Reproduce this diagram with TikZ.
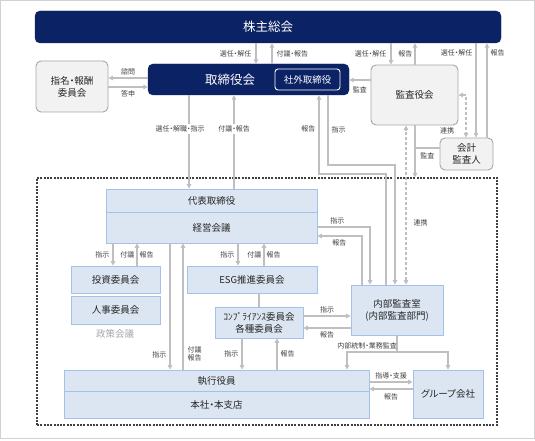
\documentclass[tikz,border=0pt]{standalone}
\usepackage{fontspec}
\setmainfont{Noto Sans CJK JP}[RawFeature=+palt]
\usetikzlibrary{arrows.meta}
\definecolor{navy}{HTML}{0B2264}
\definecolor{boxgray}{HTML}{A6A6A6}
\definecolor{fillgray}{HTML}{F2F2F2}
\definecolor{bluefill}{HTML}{DCE6F2}
\definecolor{blueline}{HTML}{A4C2E8}
\definecolor{conngray}{HTML}{BFBFBF}
\definecolor{labgray}{HTML}{404040}
\definecolor{txt}{HTML}{262626}
\begin{document}
\begin{tikzpicture}[x=1pt,y=-1pt,
  navybox/.style={draw=navy, fill=navy, rounded corners=5pt, text=white, inner sep=0pt},
  graybox/.style={draw=boxgray, fill=fillgray, line width=0.9pt, rounded corners=5pt, text=txt, align=center, inner sep=0pt, font=\fontsize{9.5}{12}\selectfont},
  bluebox/.style={draw=blueline, fill=bluefill, line width=0.8pt, text=txt, align=center, inner sep=0pt, font=\fontsize{9.5}{12}\selectfont},
  conn/.style={draw=conngray, line width=1.3pt},
  arr/.style={conn, -{Triangle[length=4.5pt,width=4.5pt]}},
  darr/.style={conn, {Triangle[length=4.5pt,width=4.5pt]}-{Triangle[length=4.5pt,width=4.5pt]}, dash pattern=on 3pt off 2pt},
  lab/.style={font=\fontsize{7}{8.5}\selectfont, text=labgray, inner sep=1pt, align=center},
  labw/.style={lab, fill=white, inner sep=2pt}
]
\useasboundingbox (0,0) rectangle (535,441);
\draw[gray!35, line width=1pt] (0.5,0.5) rectangle (534.5,438.5);

% top level
\node[navybox, minimum width=466pt, minimum height=32pt, font=\fontsize{12.5}{14}\selectfont] (gm) at (268,27) {株主総会};
\node[navybox, minimum width=201pt, minimum height=31pt] (bod) at (248.5,79.5) {};
\node[font=\fontsize{12.5}{14}\selectfont, text=white, inner sep=0pt] (bodt) at (230,80) {取締役会};
\node[draw=white, fill=navy, line width=0.9pt, rounded corners=3pt, minimum width=65pt, minimum height=21pt, text=white, inner sep=0pt, font=\fontsize{9.5}{12}\selectfont] (ood) at (307.5,79.5) {社外取締役};
\node[graybox, minimum width=72pt, minimum height=51pt] (nom) at (72,86.5) {指名・報酬\\委員会};
\node[graybox, minimum width=87pt, minimum height=60pt] (kan) at (414.5,95) {監査役会};
\node[graybox, minimum width=53pt, minimum height=32pt] (acc) at (466.5,154) {会計\\監査人};

% executive frame
\node[draw=labgray, line width=1.1pt, dash pattern=on 2pt off 1.3pt, minimum width=460pt, minimum height=247pt, inner sep=0pt] (org) at (267,301.5) {};

\node[bluebox, minimum width=211pt, minimum height=23pt] (rep) at (211.5,200.5) {代表取締役};
\node[bluebox, minimum width=211pt, minimum height=31pt] (mgmt) at (211.5,227.5) {経営会議};
\node[bluebox, minimum width=89pt, minimum height=27pt] (inv) at (115.5,279.5) {投資委員会};
\node[bluebox, minimum width=89pt, minimum height=28pt] (hr) at (115.5,310) {人事委員会};
\node[text=boxgray, font=\fontsize{9.5}{12}\selectfont, inner sep=0pt] (policy) at (115,334) {政策会議};
\node[bluebox, minimum width=130pt, minimum height=27pt] (esg) at (252,279.5) {ESG推進委員会};
\node[bluebox, minimum width=88pt, minimum height=31pt] (comp) at (259,322.5) {ｺﾝﾌﾟﾗｲｱﾝｽ委員会\\各種委員会};
\node[bluebox, minimum width=92pt, minimum height=50pt] (ia) at (397,310) {内部監査室\\(内部監査部門)};
\node[bluebox, minimum width=305pt, minimum height=21pt] (exe) at (216.5,380.5) {執行役員};
\node[bluebox, minimum width=305pt, minimum height=27pt] (hq) at (216.5,404.5) {本社・本支店};
\node[bluebox, minimum width=70pt, minimum height=48pt] (grp) at (448,394) {グループ会社};

% shareholders meeting connectors
\draw[arr] (256,0 |- gm.south) -- node[lab,left=3pt]{選任・解任} (256,0 |- bod.north);
\draw[arr] (272,0 |- bod.north) -- node[lab,right=3pt]{付議・報告} (272,0 |- gm.south);
\draw[arr] (391,0 |- gm.south) -- node[lab,left=3pt]{選任・解任} (391,0 |- kan.north);
\draw[arr] (415,0 |- kan.north) -- node[lab,left=1pt]{報告} (415,0 |- gm.south);
\draw[arr] (476,0 |- gm.south) -- node[lab,left=2pt,pos=0.105]{選任・解任} (476,0 |- acc.north);
\draw[arr] (487,0 |- acc.north) -- node[lab,right=2pt,pos=0.895]{報告} (487,0 |- gm.south);

% board and nomination committee
\draw[arr] (bod.west |- 0,78) -- node[lab,above=1pt]{諮問} (nom.east |- 0,78);
\draw[arr] (nom.east |- 0,87) -- node[lab,below=2pt]{答申} (bod.west |- 0,87);

% audit board
\draw[arr] (kan.west |- 0,80) -- node[lab,below=5pt]{監査} (bod.east |- 0,80);
\draw[darr] (kan.east |- 0,95) -| (466,0 |- acc.north);
\node[lab] (renkei1) at (447,131) {連携};
\draw[arr] (415,0 |- kan.south) -- (415,0 |- org.north);
\coordinate (kbr) at (415,148);
\draw[conn] (kbr) -- node[lab,below=3pt]{監査} (acc.west |- kbr);
\draw[darr] (406,0 |- ia.north) -- node[lab,right=6pt,pos=0.39]{連携} (406,0 |- kan.south);

% board <-> representative director
\draw[arr] (189,0 |- bod.south) -- node[labw,pos=0.36,xshift=-9pt]{選任・解職・指示} (189,0 |- rep.north);
\draw[arr] (234,0 |- rep.north) -- node[labw,pos=0.64]{付議・報告} (234,0 |- bod.south);

% internal audit <-> outside directors
\draw[arr] (386,0 |- ia.north) |- (319,174) -- node[lab,left=2pt,pos=0.57]{報告} (319,0 |- bod.south);
\draw[arr] (328,0 |- bod.south) -- node[lab,right=2pt,pos=0.49]{指示} (328,165) -| (395,0 |- ia.north);

% management meeting <-> internal audit
\draw[arr] (mgmt.east |- 0,227) -| node[lab,above=1pt,pos=0.19]{指示} (370,0 |- ia.north);
\draw[arr] (362,0 |- ia.north) |- node[lab,below=2pt,pos=0.755]{報告} (mgmt.east |- 0,236);

% management meeting <-> committees
\draw[arr] (113,0 |- mgmt.south) -- node[lab,left=2pt]{指示} (113,0 |- inv.north);
\draw[arr] (137,0 |- inv.north) -- node[lab,left=1pt]{付議} node[lab,right=1pt]{報告} (137,0 |- mgmt.south);
\draw[arr] (238,0 |- mgmt.south) -- node[lab,left=2pt]{指示} (238,0 |- esg.north);
\draw[arr] (264,0 |- esg.north) -- node[lab,left=1pt]{付議} node[lab,right=1pt]{報告} (264,0 |- mgmt.south);
\draw[conn] (259,0 |- esg.south) -- (259,0 |- comp.north);

% to executive officers
\draw[arr] (170,0 |- mgmt.south) -- node[lab,left=2pt,pos=0.88]{指示} (170,0 |- exe.north);
\draw[arr] (183,0 |- exe.north) -- node[lab,right=3pt,pos=0.126]{付議\\報告} (183,0 |- mgmt.south);
\draw[arr] (242,0 |- comp.south) -- node[lab,left=2pt]{指示} (242,0 |- exe.north);
\draw[arr] (277,0 |- exe.north) -- node[lab,right=2pt]{報告} (277,0 |- comp.south);

% compliance <-> internal audit
\draw[arr] (comp.east |- 0,316) -- node[lab,above=1pt]{指示} (ia.west |- 0,316);
\draw[arr] (ia.west |- 0,328) -- node[lab,below=2pt]{報告} (comp.east |- 0,328);

% internal audit to executives and group companies
\coordinate (j) at (397,352);
\draw[conn] (397,0 |- ia.south) -- (j);
\draw[arr] (j) -| node[lab,above=1pt,pos=0.3]{内部統制・業務監査} (347,0 |- exe.north);
\draw[arr] (j) -| (448,0 |- grp.north);

% executives <-> group companies
\draw[arr] (exe.east |- 0,382) -- node[lab,above=1pt]{指導・支援} (grp.west |- 0,382);
\draw[arr] (grp.west |- 0,389) -- node[lab,below=3pt]{報告} (exe.east |- 0,389);
\end{tikzpicture}
\end{document}
